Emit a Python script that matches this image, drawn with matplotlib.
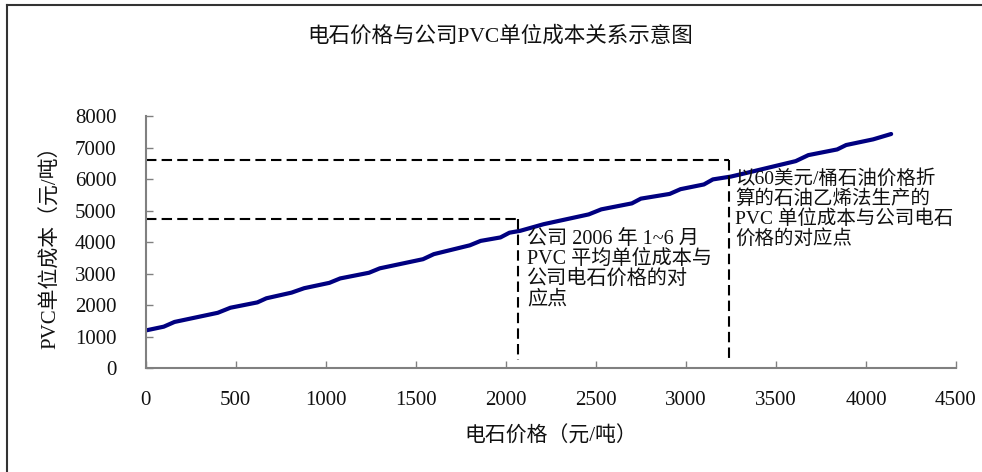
import matplotlib.pyplot as plt
from matplotlib.lines import Line2D

plt.rcParams['font.family'] = ['Liberation Serif', 'Noto Sans CJK SC', 'DejaVu Sans']

# 电石价格 (元/吨) 与 PVC 单位成本 (元/吨)
carbide_price = [0, 100, 160, 400, 470, 620, 670, 810, 880, 1020, 1080, 1240,
                 1300, 1540, 1600, 1800, 1860, 1970, 2020, 2080, 2210, 2460,
                 2530, 2700, 2750, 2910, 2970, 3100, 3150, 3250, 3340, 3610,
                 3680, 3840, 3890, 4040, 4140]
pvc_cost = [1200, 1320, 1470, 1760, 1920, 2090, 2220, 2400, 2540, 2710, 2850,
            3030, 3170, 3460, 3620, 3900, 4040, 4150, 4300, 4360, 4570, 4880,
            5040, 5230, 5380, 5530, 5680, 5830, 5990, 6080, 6200, 6570, 6760,
            6940, 7080, 7260, 7430]

# 对应点
point_2006 = (2070, 4750)
point_oil60 = (3240, 6600)

x_ticks = [0, 500, 1000, 1500, 2000, 2500, 3000, 3500, 4000, 4500]
y_ticks = [0, 1000, 2000, 3000, 4000, 5000, 6000, 7000, 8000]

fig = plt.figure(figsize=(9.82, 4.72), dpi=100)
ax = fig.add_axes([0.1484, 0.2197, 0.8251, 0.5345])

ax.plot(carbide_price, pvc_cost, color='#000080', lw=3, solid_capstyle='round')

dash = (0, (5, 2.5))
for px, py in (point_2006, point_oil60):
    ax.plot([0, px], [py, py], color='black', lw=1.5, linestyle=dash)
    ax.plot([px, px], [py, 250], color='black', lw=1.5, linestyle=dash)

ax.text(2117, 4400, '公司 2006 年 1~6 月\nPVC 平均单位成本与\n公司电石价格的对\n应点',
        fontsize=14.5, va='top', ha='left', linespacing=1.08, color='#111111')
ax.text(3274, 6330, '以60美元/桶石油价格折\n算的石油乙烯法生产的\nPVC 单位成本与公司电石\n价格的对应点',
        fontsize=14, va='top', ha='left', linespacing=1.1, color='#111111')

ax.set_xlim(0, 4500)
ax.set_ylim(0, 8000)
ax.set_xticks(x_ticks)
ax.set_yticks(y_ticks)
ax.tick_params(direction='in', length=5, width=1, color='#808080',
               labelsize=15, labelcolor='#111111')
ax.tick_params(axis='y', pad=21)
ax.tick_params(axis='x', pad=16)
for side in ('top', 'right'):
    ax.spines[side].set_visible(False)
for side in ('left', 'bottom'):
    ax.spines[side].set_color('#808080')
    ax.spines[side].set_linewidth(1.5)

ax.set_xlabel('电石价格（元/吨）', fontsize=15, labelpad=12, color='#111111')
ax.set_ylabel('PVC单位成本（元/吨）', fontsize=15, labelpad=10, color='#111111')
fig.text(0.509, 0.922, '电石价格与公司PVC单位成本关系示意图', fontsize=15.5,
         ha='center', va='center', color='#111111')

# chart area border (top and left edges)
fig.add_artist(Line2D([7 / 982, 1], [1 - 5 / 472, 1 - 5 / 472],
                      color='#333333', lw=1.5))
fig.add_artist(Line2D([7 / 982, 7 / 982], [0, 1 - 5 / 472],
                      color='#333333', lw=1.5))

fig.savefig('out.png', dpi=100)
plt.close(fig)
